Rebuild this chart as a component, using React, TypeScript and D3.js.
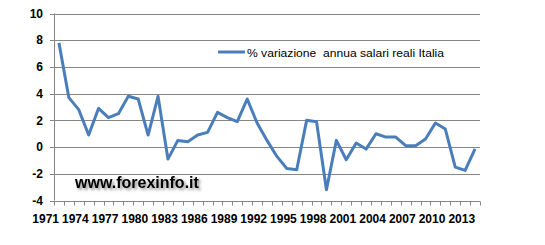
import React from "react";
import * as d3 from "d3";

const years: number[] = d3.range(1971, 2014);
const values: number[] = [
  7.8, 3.7, 2.8, 0.9, 2.9, 2.2, 2.5, 3.8, 3.6, 0.9,
  3.8, -0.9, 0.5, 0.4, 0.9, 1.1, 2.6, 2.2, 1.9, 3.6,
  1.8, 0.5, -0.7, -1.6, -1.7, 2.0, 1.9, -3.2, 0.5, -0.95,
  0.3, -0.15, 1.0, 0.75, 0.75, 0.1, 0.1, 0.6, 1.8, 1.35,
  -1.5, -1.75, -0.13,
];
const yTicks: number[] = [-4, -2, 0, 2, 4, 6, 8, 10];
const xLabels: number[] = d3.range(1971, 2014, 3);
const seriesName = "% variazione  annua salari reali Italia";
const watermark = "www.forexinfo.it";

export default function App() {
  const W = 545, H = 245;
  const left = 54, right = 480, top = 13.5, bottom = 200.5;
  const x = d3.scaleBand<number>().domain(years).range([left, right]).padding(0);
  const y = d3.scaleLinear().domain([-4, 10]).range([bottom, top]);
  const bw = x.bandwidth();
  const cx = (yr: number) => (x(yr) as number) + bw / 2;
  const line = d3
    .line<number>()
    .x((_, i) => cx(years[i]))
    .y((d) => y(d));
  const grid = "#868686";
  const px = (v: number) => Math.round(v) + 0.5;
  const boundaries = d3.range(0, years.length + 1).map((i) => left + i * bw);

  return (
    <svg width={W} height={H} style={{ position: "absolute", left: 0, top: 0, background: "#fff" }}>
      <defs>
        <filter id="shadow" x="-10%" y="-30%" width="130%" height="180%">
          <feDropShadow dx="2" dy="2" stdDeviation="1.5" floodColor="#000" floodOpacity="0.45" />
        </filter>
      </defs>
      {yTicks.map((t) => (
        <g key={t}>
          {t !== -4 && (
            <line x1={left} x2={right} y1={px(y(t))} y2={px(y(t))} stroke={grid} strokeWidth={1} />
          )}
          <line x1={left - 4} x2={left} y1={px(y(t))} y2={px(y(t))} stroke={grid} strokeWidth={1} />
          <text
            x={43}
            y={y(t)}
            dy="0.35em"
            textAnchor="end"
            fontFamily="Liberation Sans, Arial, sans-serif"
            fontWeight="bold"
            fontSize={12}
            fill="#000"
          >
            {t}
          </text>
        </g>
      ))}
      <line x1={px(left)} x2={px(left)} y1={top} y2={bottom} stroke={grid} strokeWidth={1} />
      <line x1={left} x2={right} y1={px(bottom)} y2={px(bottom)} stroke={grid} strokeWidth={1} />
      {boundaries.map((b, i) => (
        <line key={i} x1={px(b)} x2={px(b)} y1={px(bottom)} y2={px(bottom) + 4} stroke={grid} strokeWidth={1} />
      ))}
      {xLabels.map((yr) => (
        <text
          key={yr}
          x={cx(yr) - 13.3}
          y={223}
          textAnchor="middle"
          fontFamily="Liberation Sans, Arial, sans-serif"
          fontWeight="bold"
          fontSize={12}
          fill="#000"
        >
          {yr}
        </text>
      ))}
      <path d={line(values) || ""} fill="none" stroke="#4a7ebb" strokeWidth={3} strokeLinejoin="round" />
      <line x1={218} x2={245} y1={52} y2={52} stroke="#4a7ebb" strokeWidth={3} />
      <text
        x={247}
        y={56.5}
        fontFamily="Liberation Sans, Arial, sans-serif"
        fontSize={11}
        fill="#000"
        textLength={197}
        lengthAdjust="spacingAndGlyphs"
        style={{ whiteSpace: "pre" }}
      >
        {seriesName}
      </text>
      <text
        x={75}
        y={188}
        fontFamily="Liberation Sans, Arial, sans-serif"
        fontWeight="bold"
        fontSize={16}
        fill="#000"
        filter="url(#shadow)"
      >
        {watermark}
      </text>
    </svg>
  );
}
